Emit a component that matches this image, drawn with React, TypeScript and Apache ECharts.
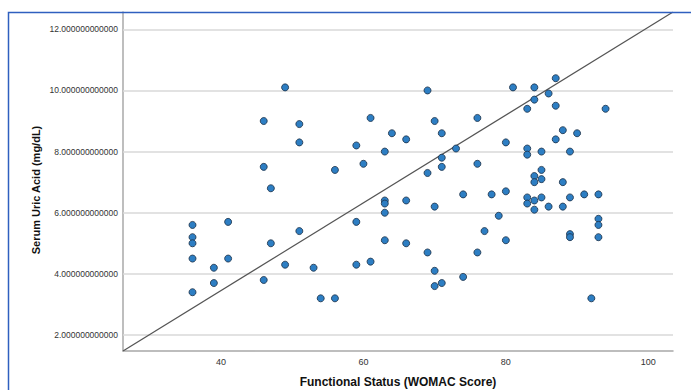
import React, { useEffect, useRef } from "react";
import * as echarts from "echarts";

const xValues: number[] = [
  36, 36, 36, 36, 36,
  39, 39,
  41, 41,
  46, 46, 46,
  47, 47,
  49, 49,
  51, 51, 51,
  53,
  54,
  56, 56,
  59, 59, 59,
  60,
  61, 61,
  63, 63, 63, 63, 63,
  64,
  66, 66, 66,
  69, 69, 69,
  70, 70, 70, 70,
  71, 71, 71, 71,
  73,
  74, 74,
  76, 76, 76,
  77,
  78,
  79,
  80, 80, 80,
  81,
  83, 83, 83, 83, 83,
  84, 84, 84, 84, 84, 84,
  85, 85, 85, 85,
  86, 86,
  87, 87, 87,
  88, 88, 88,
  89, 89, 89, 89,
  90,
  91,
  92,
  93, 93, 93, 93,
  94,
];

const yValues: number[] = [
  5.6, 5.2, 5.0, 4.5, 3.4,
  4.2, 3.7,
  5.7, 4.5,
  9.0, 7.5, 3.8,
  6.8, 5.0,
  10.1, 4.3,
  8.9, 8.3, 5.4,
  4.2,
  3.2,
  7.4, 3.2,
  8.2, 5.7, 4.3,
  7.6,
  9.1, 4.4,
  8.0, 6.4, 6.3, 6.0, 5.1,
  8.6,
  8.4, 6.4, 5.0,
  10.0, 7.3, 4.7,
  9.0, 6.2, 4.1, 3.6,
  8.6, 7.8, 7.5, 3.7,
  8.1,
  6.6, 3.9,
  9.1, 7.6, 4.7,
  5.4,
  6.6,
  5.9,
  8.3, 6.7, 5.1,
  10.1,
  9.4, 8.1, 7.9, 6.5, 6.3,
  10.1, 9.7, 7.2, 7.0, 6.4, 6.1,
  8.0, 7.4, 7.1, 6.5,
  9.9, 6.2,
  10.4, 9.5, 8.4,
  8.7, 7.0, 6.2,
  8.0, 6.5, 5.3, 5.2,
  8.6,
  6.6,
  3.2,
  6.6, 5.8, 5.6, 5.2,
  9.4,
];

const xTicks: number[] = [40, 60, 80, 100];
const yTicks: number[] = [2, 4, 6, 8, 10, 12];
const xRange: number[] = [26.239, 103.468];
const yRange: number[] = [1.4766, 12.566];

const xTitle = "Functional Status (WOMAC Score)";
const yTitle = "Serum Uric Acid (mg/dL)";

const FONT = 'Arial, "Liberation Sans", sans-serif';

export default function App() {
  const ref = useRef<HTMLDivElement>(null);

  useEffect(() => {
    if (!ref.current) return;
    const chart = echarts.init(ref.current, null, { renderer: "svg" });
    const points = xValues.map((x, i) => [x, yValues[i]]);
    chart.setOption({
      animation: false,
      backgroundColor: "#ffffff",
      grid: { left: 123, right: 18, top: 12, bottom: 39, containLabel: false },
      xAxis: {
        type: "value",
        min: xRange[0],
        max: xRange[1],
        axisLine: { show: true, lineStyle: { color: "#a8a8a8", width: 1.5 } },
        axisTick: { show: false },
        splitLine: { show: false },
        axisLabel: {
          customValues: xTicks,
          showMinLabel: true,
          showMaxLabel: true,
          margin: 6,
          fontSize: 9,
          fontFamily: FONT,
          color: "#333",
          formatter: (v: number) => String(Math.round(v)),
        },
      },
      yAxis: {
        type: "value",
        min: yRange[0],
        max: yRange[1],
        axisLine: { show: true, lineStyle: { color: "#a8a8a8", width: 1.5 } },
        axisTick: { show: false },
        splitLine: { show: false },
        axisLabel: {
          customValues: yTicks,
          margin: 5,
          fontSize: 8.5,
          fontFamily: FONT,
          color: "#333",
          formatter: (v: number) => v.toFixed(12),
        },
      },
      graphic: [
        {
          type: "rect",
          z: 100,
          silent: true,
          shape: { x: 8.5, y: 12.5, width: 800, height: 500 },
          style: { fill: "none", stroke: "#2f5fbf", lineWidth: 1.5 },
        },
        {
          type: "text",
          x: 36,
          y: 190,
          rotation: Math.PI / 2,
          style: {
            text: yTitle,
            fontSize: 11,
            fontWeight: "bold",
            fontFamily: FONT,
            fill: "#111",
            align: "center",
            verticalAlign: "middle",
          },
        },
        {
          type: "text",
          x: 398,
          y: 382,
          style: {
            text: xTitle,
            fontSize: 12,
            fontWeight: "bold",
            fontFamily: FONT,
            fill: "#111",
            align: "center",
            verticalAlign: "middle",
          },
        },
      ],
      series: [
        {
          type: "line",
          data: [
            [xRange[0], yRange[0]],
            [xRange[1], yRange[1]],
          ],
          symbol: "none",
          silent: true,
          z: 2,
          lineStyle: { color: "#555555", width: 1.2 },
          markLine: {
            silent: true,
            symbol: "none",
            label: { show: false },
            lineStyle: { color: "#d9d9d9", width: 1.5, type: "solid" },
            data: yTicks.map((t) => ({ yAxis: t })),
            z: 1,
          },
        },
        {
          type: "scatter",
          data: points,
          symbol: "circle",
          symbolSize: 7,
          z: 3,
          itemStyle: { color: "#2d7ec3", borderColor: "#1b2e45", borderWidth: 0.8, opacity: 1 },
        },
      ],
    });
    return () => chart.dispose();
  }, []);

  return (
    <div
      ref={ref}
      style={{ position: "absolute", left: 0, top: 0, width: 691, height: 390 }}
    />
  );
}
